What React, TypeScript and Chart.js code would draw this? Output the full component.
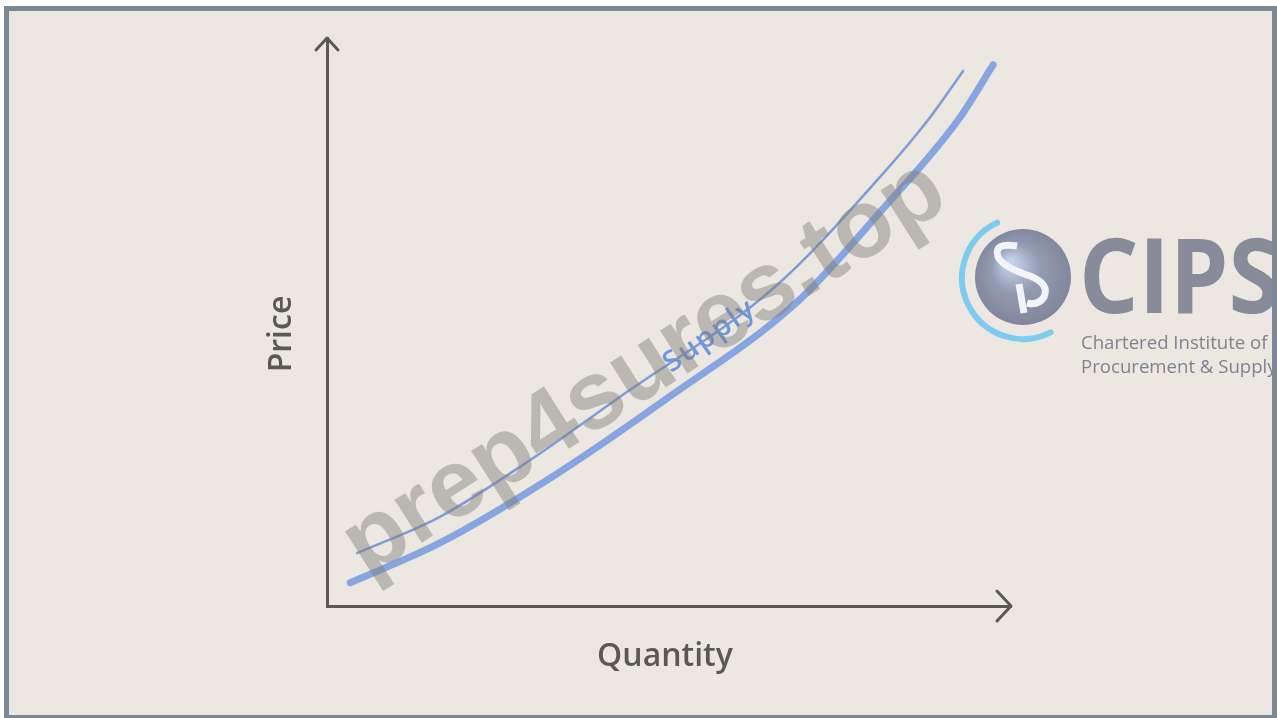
import React, { useEffect, useRef } from "react";
import { Chart, registerables } from "chart.js";

Chart.register(...registerables);

// ---- data (Quantity 0..100 / Price 0..100) ----
const quantityMain = [3.4, 16.5, 32.6, 49.4, 68.7, 80.9, 92.3, 97.4];
const priceMain = [4.1, 11.1, 22.5, 36.3, 53.5, 69.4, 85.6, 95.3];
const quantityShifted = [4.4, 16.5, 29.7, 42.8, 65.6, 80.9, 87.9, 93.0];
const priceShifted = [9.3, 15.7, 25.7, 36.8, 56.3, 75.6, 85.6, 94.2];
const xAxisLabel = "Quantity";
const yAxisLabel = "Price";
const curveLabel = "Supply";
const watermarkText = "prep4sures.top";
const logoTitle = "CIPS";
const logoLines = ["Chartered Institute of", "Procurement & Supply"];

const BG = "#ece8e1";
const FRAME = "#7a8896";
const AXIS = "#5c5955";
const LINE_MAIN = "#86a6e2";
const LINE_THIN = "#7f9cd9";

const toPoints = (xs: number[], ys: number[]) => xs.map((x, i) => ({ x, y: ys[i] }));

const overlayPlugin = {
  id: "overlay",
  afterDatasetsDraw(chart: any) {
    const ctx = chart.ctx as CanvasRenderingContext2D;
    // curve label
    ctx.save();
    ctx.translate(710, 336);
    ctx.rotate((-35 * Math.PI) / 180);
    ctx.font = '600 29px "Open Sans"';
    (ctx as any).letterSpacing = "2px";
    ctx.fillStyle = "#7096da";
    ctx.textAlign = "center";
    ctx.textBaseline = "middle";
    ctx.fillText(curveLabel, 0, 0);
    ctx.restore();
  },
  afterDraw(chart: any) {
    const ctx = chart.ctx as CanvasRenderingContext2D;
    const a = chart.chartArea;
    ctx.save();
    // arrow heads
    ctx.strokeStyle = AXIS;
    ctx.lineWidth = 3;
    ctx.lineCap = "round";
    ctx.lineJoin = "round";
    ctx.beginPath();
    ctx.moveTo(a.left - 11, a.top + 12);
    ctx.lineTo(a.left, a.top);
    ctx.lineTo(a.left + 11, a.top + 12);
    ctx.moveTo(a.right - 14, a.bottom - 15);
    ctx.lineTo(a.right, a.bottom);
    ctx.lineTo(a.right - 14, a.bottom + 15);
    ctx.stroke();

    // axis labels
    ctx.fillStyle = AXIS;
    ctx.font = '600 32px "Open Sans"';
    ctx.textAlign = "center";
    ctx.textBaseline = "alphabetic";
    ctx.fillText(xAxisLabel, (a.left + a.right) / 2 - 4, a.bottom + 60);
    ctx.save();
    ctx.translate(a.left - 36, (a.top + a.bottom) / 2 + 12);
    ctx.rotate(-Math.PI / 2);
    ctx.fillText(yAxisLabel, 0, 0);
    ctx.restore();

    // logo
    ctx.strokeStyle = "#7fcbef";
    ctx.lineWidth = 6;
    ctx.lineCap = "round";
    ctx.beginPath();
    ctx.arc(1023, 278, 61, (63 * Math.PI) / 180, (245 * Math.PI) / 180);
    ctx.stroke();
    const g = ctx.createRadialGradient(1010, 262, 3, 1023, 277, 50);
    g.addColorStop(0, "#c3d3ec");
    g.addColorStop(0.45, "#939cb2");
    g.addColorStop(1, "#80859a");
    ctx.fillStyle = g;
    ctx.beginPath();
    ctx.arc(1023, 277, 48, 0, Math.PI * 2);
    ctx.fill();
    ctx.strokeStyle = "#f3f4f7";
    ctx.lineWidth = 7;
    ctx.lineCap = "butt";
    ctx.beginPath();
    ctx.moveTo(1017, 246);
    ctx.quadraticCurveTo(993, 242, 998, 257);
    ctx.quadraticCurveTo(1003, 267, 1030, 276);
    ctx.quadraticCurveTo(1050, 284, 1044, 297);
    ctx.quadraticCurveTo(1038, 306, 1027, 303);
    ctx.stroke();
    ctx.beginPath();
    ctx.moveTo(1019, 284);
    ctx.lineTo(1024, 313);
    ctx.stroke();

    ctx.save();
    ctx.translate(1079, 313);
    ctx.scale(0.9, 1);
    ctx.fillStyle = "#888b9a";
    ctx.font = 'bold 104px "Open Sans"';
    ctx.textAlign = "left";
    ctx.fillText(logoTitle, 0, 0);
    ctx.restore();

    ctx.fillStyle = "#7f8290";
    ctx.font = '18.6px "Open Sans"';
    ctx.textAlign = "left";
    ctx.fillText(logoLines[0], 1081, 349);
    ctx.fillText(logoLines[1], 1081, 373);

    // watermark
    ctx.save();
    ctx.translate(645, 369);
    ctx.rotate((-32.5 * Math.PI) / 180);
    ctx.font = 'bold 96px "Liberation Sans"';
    ctx.fillStyle = "rgba(128,126,122,0.46)";
    ctx.textAlign = "center";
    ctx.textBaseline = "middle";
    ctx.fillText(watermarkText, 0, 0);
    ctx.restore();

    ctx.restore();
  },
};

export default function App() {
  const ref = useRef<HTMLCanvasElement | null>(null);

  useEffect(() => {
    if (!ref.current) return;
    const chart = new Chart(ref.current, {
      type: "scatter",
      data: {
        datasets: [
          {
            data: toPoints(quantityMain, priceMain),
            showLine: true,
            borderColor: LINE_MAIN,
            borderWidth: 7,
            borderCapStyle: "round",
            pointRadius: 0,
            cubicInterpolationMode: "monotone",
            clip: false,
          } as any,
          {
            data: toPoints(quantityShifted, priceShifted),
            showLine: true,
            borderColor: LINE_THIN,
            borderWidth: 2.5,
            borderCapStyle: "round",
            pointRadius: 0,
            cubicInterpolationMode: "monotone",
            clip: false,
          } as any,
        ],
      },
      options: {
        responsive: false,
        animation: false,
        devicePixelRatio: 1,
        layout: { padding: { left: 327, right: 266, top: 38, bottom: 112 } },
        plugins: { legend: { display: false }, tooltip: { enabled: false } },
        events: [],
        scales: {
          x: {
            type: "linear",
            min: 0,
            max: 100,
            ticks: { display: false },
            grid: { display: false, drawTicks: false },
            border: { display: true, color: AXIS, width: 3 },
          },
          y: {
            type: "linear",
            min: 0,
            max: 100,
            ticks: { display: false },
            grid: { display: false, drawTicks: false },
            border: { display: true, color: AXIS, width: 3 },
          },
        },
      },
      plugins: [overlayPlugin],
    });
    return () => chart.destroy();
  }, []);

  return (
    <div
      style={{
        position: "fixed",
        left: 0,
        top: 0,
        width: 1277,
        height: 718,
        background: "#ffffff",
        overflow: "hidden",
      }}
    >
      <div style={{ position: "absolute", left: 9, top: 11, width: 1263, height: 704, background: BG }} />
      <canvas
        ref={ref}
        width={1277}
        height={718}
        style={{ position: "absolute", left: 0, top: 0, width: 1277, height: 718 }}
      />
      <div
        style={{
          position: "absolute",
          left: 4,
          top: 6,
          width: 1273,
          height: 712,
          boxSizing: "border-box",
          borderStyle: "solid",
          borderColor: FRAME,
          borderWidth: "5px 5px 3px 5px",
          pointerEvents: "none",
        }}
      />
    </div>
  );
}
